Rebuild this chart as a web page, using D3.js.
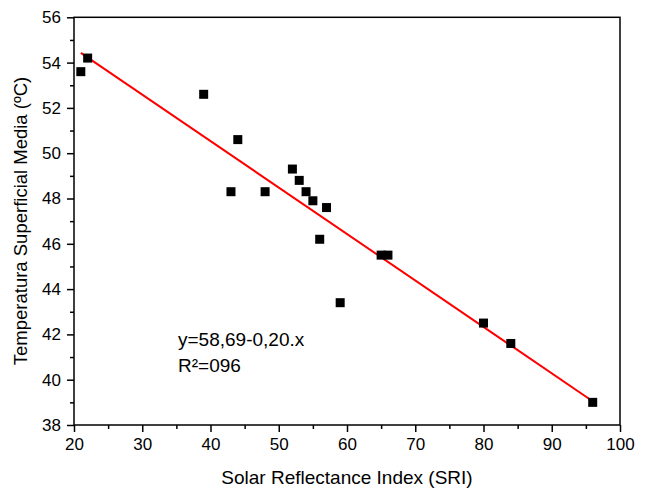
<!DOCTYPE html>
<html><head><meta charset="utf-8">
<script src="https://cdn.jsdelivr.net/npm/d3@7"></script>
<style>body{margin:0;background:#fff;} svg{display:block;} text{font-family:"Liberation Sans",Arial,sans-serif;fill:#000;}</style>
</head><body>
<svg id="c" width="647" height="489"></svg>
<script>
const sri = [21, 22, 39, 43, 44, 48, 52, 53, 54, 55, 56, 57, 59, 65, 66, 80, 84, 96];
const temp = [53.6, 54.2, 52.6, 48.3, 50.6, 48.3, 49.3, 48.8, 48.3, 47.9, 46.2, 47.6, 43.4, 45.5, 45.5, 42.5, 41.6, 39.0];
const fitX = [21, 96];
const fitY = [54.43, 39.05];
const xTicks = [20, 30, 40, 50, 60, 70, 80, 90, 100];
const yTicks = [38, 40, 42, 44, 46, 48, 50, 52, 54, 56];
const xMinor = [25, 35, 45, 55, 65, 75, 85, 95];
const yMinor = [39, 41, 43, 45, 47, 49, 51, 53, 55];
const xTitle = "Solar Reflectance Index (SRI)";
const yTitle = "Temperatura Superficial Media (ºC)";
const eqLines = ["y=58,69-0,20.x", "R²=096"];

const L = 74, R = 620, T = 17.3, B = 425;
const svg = d3.select("#c");
const x = d3.scaleLinear().domain([20, 100]).range([L, R]);
const y = d3.scaleLinear().domain([38, 56]).range([B, T]);

// frame
svg.append("rect").attr("x", L).attr("y", T).attr("width", R - L).attr("height", B - T)
  .attr("fill", "none").attr("stroke", "#000").attr("stroke-width", 1.5);

const xa = svg.append("g").attr("transform", `translate(0,${B})`)
  .call(d3.axisBottom(x).tickValues(xTicks).tickSize(7).tickPadding(6).tickFormat(d3.format("d")));
const xm = svg.append("g").attr("transform", `translate(0,${B})`)
  .call(d3.axisBottom(x).tickValues(xMinor).tickSize(4).tickFormat(""));
const ya = svg.append("g").attr("transform", `translate(${L},0)`)
  .call(d3.axisLeft(y).tickValues(yTicks).tickSize(7).tickPadding(6).tickFormat(d3.format("d")));
const ym = svg.append("g").attr("transform", `translate(${L},0)`)
  .call(d3.axisLeft(y).tickValues(yMinor).tickSize(4).tickFormat(""));
[xa, xm, ya, ym].forEach(g => {
  g.select(".domain").remove();
  g.selectAll("line").attr("stroke", "#000").attr("stroke-width", 1.5);
  g.selectAll("text").style("font-size", "17px").style("font-family", '"Liberation Sans",Arial,sans-serif');
});

// fit line
svg.append("line").attr("x1", x(fitX[0])).attr("y1", y(fitY[0]))
  .attr("x2", x(fitX[1])).attr("y2", y(fitY[1]))
  .attr("stroke", "#ff0000").attr("stroke-width", 2);

// points
const s = 9;
svg.append("g").selectAll("rect").data(sri).join("rect")
  .attr("x", (d, i) => x(d) - s / 2).attr("y", (d, i) => y(temp[i]) - s / 2)
  .attr("width", s).attr("height", s).attr("fill", "#000");

// titles
svg.append("text").attr("x", 347).attr("y", 484).attr("text-anchor", "middle")
  .style("font-size", "19px").text(xTitle);
svg.append("text").attr("transform", "translate(27,221) rotate(-90)").attr("text-anchor", "middle")
  .style("font-size", "18.5px").text(yTitle);

// equation
svg.append("text").attr("x", 178).attr("y", 346).style("font-size", "19px").text(eqLines[0]);
svg.append("text").attr("x", 178).attr("y", 372).style("font-size", "19px").text(eqLines[1]);
</script>
</body></html>
